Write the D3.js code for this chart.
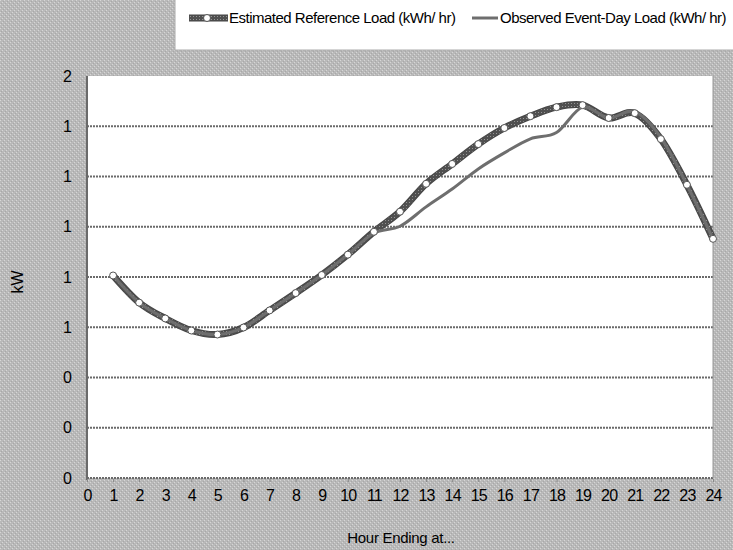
<!DOCTYPE html>
<html><head><meta charset="utf-8">
<script src="https://cdn.jsdelivr.net/npm/d3@7/dist/d3.min.js"></script>
<style>
html,body{margin:0;padding:0;background:#bdbdbd;}
svg{display:block;}
text{font-family:"Liberation Sans",Arial,sans-serif;fill:#000;}
</style></head>
<body>
<svg id="chart" width="733" height="550"></svg>
<script>
const hours = [1,2,3,4,5,6,7,8,9,10,11,12,13,14,15,16,17,18,19,20,21,22,23,24];
const estimated = [0.806,0.698,0.635,0.587,0.571,0.599,0.667,0.736,0.808,0.889,0.980,1.060,1.171,1.250,1.329,1.393,1.440,1.476,1.484,1.433,1.452,1.349,1.167,0.952];
const observed  = [0.806,0.698,0.635,0.587,0.571,0.599,0.667,0.736,0.808,0.889,0.975,1.002,1.079,1.150,1.230,1.294,1.350,1.375,1.476,1.433,1.458,1.355,1.167,0.952];
const yTicks = [0,0.2,0.4,0.6,0.8,1.0,1.2,1.4,1.6];
const xTicks = d3.range(0,25);
const seriesNames = ["Estimated Reference Load (kWh/ hr)","Observed Event-Day Load (kWh/ hr)"];

const svg = d3.select("#chart");
const W = 733, H = 550;
const m = {left:87, right:20, top:76, bottom:72};

// textured background
const defs = svg.append("defs");
const pat = defs.append("pattern").attr("id","tex").attr("width",4).attr("height",4).attr("patternUnits","userSpaceOnUse");
pat.append("rect").attr("width",4).attr("height",4).attr("fill","#b9b9b9");
pat.append("rect").attr("x",0).attr("y",0).attr("width",1).attr("height",1).attr("fill","#d6d6d6");
pat.append("rect").attr("x",2).attr("y",2).attr("width",1).attr("height",1).attr("fill","#d6d6d6");
pat.append("rect").attr("x",1).attr("y",3).attr("width",1).attr("height",1).attr("fill","#a8a8a8");
pat.append("rect").attr("x",3).attr("y",1).attr("width",1).attr("height",1).attr("fill","#a8a8a8");
const gpat = defs.append("pattern").attr("id","lineTex").attr("width",3).attr("height",3).attr("patternUnits","userSpaceOnUse");
gpat.append("rect").attr("width",3).attr("height",3).attr("fill","#505050");
gpat.append("rect").attr("x",1).attr("y",1).attr("width",1).attr("height",1).attr("fill","#959595");

svg.append("rect").attr("width",W).attr("height",H).attr("fill","url(#tex)");

const x = d3.scaleLinear().domain([0,24]).range([m.left, W - m.right]);
const y = d3.scaleLinear().domain([0,1.6]).range([H - m.bottom, m.top]);

// plot area
svg.append("rect").attr("x",x(0)).attr("y",y(1.6)).attr("width",x(24)-x(0)).attr("height",y(0)-y(1.6)).attr("fill","#fff");

// gridlines
svg.append("g").selectAll("line").data(yTicks.filter(d=>d>0 && d<1.6)).join("line")
  .attr("x1",x(0)).attr("x2",x(24)).attr("y1",d=>y(d)).attr("y2",d=>y(d))
  .attr("stroke","#6a6a6a").attr("stroke-width",2).attr("stroke-dasharray","2,1");

// axes lines
svg.append("line").attr("x1",x(0)).attr("x2",x(0)).attr("y1",y(1.6)).attr("y2",y(0)+2).attr("stroke","#6a6a6a").attr("stroke-width",2);
svg.append("line").attr("x1",x(0)).attr("x2",x(24)).attr("y1",y(0)).attr("y2",y(0)).attr("stroke","#6a6a6a").attr("stroke-width",2).attr("stroke-dasharray","2,1");
svg.append("line").attr("x1",x(24)).attr("x2",x(24)).attr("y1",y(1.6)).attr("y2",y(0)).attr("stroke","#999").attr("stroke-width",1);

// x axis
const xAxis = d3.axisBottom(x).tickValues(xTicks).tickSize(3).tickPadding(8).tickFormat(d3.format("d"));
const gx = svg.append("g").attr("transform",`translate(0,${y(0)+1})`).call(xAxis);
gx.select(".domain").remove();
gx.selectAll(".tick line").attr("stroke","#888");
gx.selectAll("text").attr("font-size",16).attr("letter-spacing","-0.8px").attr("fill","#000");

// y axis
const yAxis = d3.axisLeft(y).tickValues(yTicks).tickSize(0).tickPadding(15).tickFormat(d=>d3.format(".0f")(d));
const gy = svg.append("g").attr("transform",`translate(${x(0)},0)`).call(yAxis);
gy.select(".domain").remove();
gy.selectAll("text").attr("font-size",16).attr("fill","#000");

// axis titles
svg.append("text").attr("x",401).attr("y",543).attr("text-anchor","middle").attr("font-size",15).attr("letter-spacing","-0.3px").text("Hour Ending at...");
svg.append("text").attr("transform","translate(23,282) rotate(-90)").attr("text-anchor","middle").attr("font-size",16).text("kW");

const line = d3.line().x((d,i)=>x(hours[i])).y(d=>y(d)).curve(d3.curveCatmullRom.alpha(0));

// estimated (thick)
svg.append("path").datum(estimated).attr("d",line).attr("fill","none").attr("stroke","#454545").attr("stroke-width",7);
svg.append("path").datum(estimated).attr("d",line).attr("fill","none").attr("stroke","url(#lineTex)").attr("stroke-width",5);
// observed (thin)
svg.append("path").datum(observed).attr("d",line).attr("fill","none").attr("stroke","#6e6e6e").attr("stroke-width",3);
// markers
svg.append("g").selectAll("circle").data(estimated).join("circle")
  .attr("cx",(d,i)=>x(hours[i])).attr("cy",d=>y(d)).attr("r",3.5)
  .attr("fill","#fff").attr("stroke","#555").attr("stroke-width",1);

// legend
svg.append("rect").attr("x",175).attr("y",-1).attr("width",W-175+1).attr("height",51).attr("fill","#fff").attr("stroke","#aaa");
const ly = 18;
svg.append("line").attr("x1",189).attr("x2",228).attr("y1",ly).attr("y2",ly).attr("stroke","#454545").attr("stroke-width",7);
svg.append("line").attr("x1",189).attr("x2",228).attr("y1",ly).attr("y2",ly).attr("stroke","url(#lineTex)").attr("stroke-width",5);
svg.append("circle").attr("cx",207).attr("cy",ly).attr("r",3.5).attr("fill","#fff").attr("stroke","#555");
svg.append("text").attr("x",229).attr("y",ly+5).attr("font-size",15).attr("letter-spacing","-0.5px").text(seriesNames[0]);
svg.append("line").attr("x1",472).attr("x2",498).attr("y1",ly).attr("y2",ly).attr("stroke","#6e6e6e").attr("stroke-width",3);
svg.append("text").attr("x",500).attr("y",ly+5).attr("font-size",15).attr("letter-spacing","-0.5px").text(seriesNames[1]);
</script>
</body></html>
